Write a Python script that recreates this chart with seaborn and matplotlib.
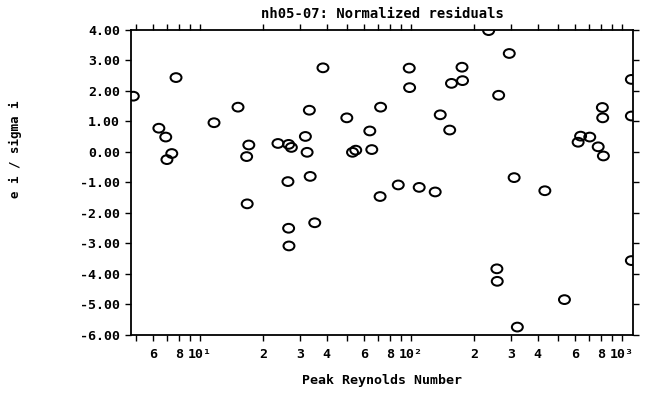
import numpy as np
import pandas as pd
import matplotlib
matplotlib.use("Agg")
import matplotlib.pyplot as plt
import seaborn as sns
from matplotlib.path import Path
from matplotlib.transforms import Affine2D
from matplotlib.ticker import FixedLocator, FixedFormatter, NullFormatter

# Peak Reynolds number of each run and its normalized residual e_i / sigma_i
reynolds = [4.85, 6.41, 6.91, 7.38, 7.0, 7.73, 11.7, 15.2, 17.1, 16.7,
            16.8, 23.5, 26.4, 27.2, 26.2, 26.4, 26.5, 31.7, 32.3, 33.4,
            35.1, 33.1, 38.4, 49.8, 53.0, 54.9, 64.0, 65.4, 71.6, 72.0,
            98.4, 98.8, 175, 176, 156, 261, 293, 234, 138, 153,
            87.3, 109.7, 130.6, 309, 432, 256, 257, 535, 320, 638,
            621, 705, 773, 818, 809, 812, 1110, 1110, 1110]
residuals = [1.83, 0.78, 0.49, -0.05, -0.25, 2.44, 0.96, 1.47, 0.23, -0.15,
             -1.70, 0.28, 0.25, 0.15, -0.97, -2.50, -3.08, 0.51, -0.01, -0.80,
             -2.32, 1.37, 2.76, 1.12, -0.01, 0.06, 0.69, 0.08, -1.46, 1.47,
             2.75, 2.11, 2.78, 2.34, 2.25, 1.86, 3.23, 3.98, 1.22, 0.72,
             -1.08, -1.16, -1.31, -0.84, -1.27, -3.83, -4.24, -4.84, -5.74, 0.52,
             0.32, 0.49, 0.17, -0.13, 1.46, 1.12, 2.38, 1.18, -3.56]

y_ticks = [-6, -5, -4, -3, -2, -1, 0, 1, 2, 3, 4]
x_label_pos = [6, 8, 10, 20, 30, 40, 60, 80, 100, 200, 300, 400, 600, 800, 1000]
x_label_text = ["6", "8", "10¹", "2", "3", "4", "6", "8", "10²",
                "2", "3", "4", "6", "8", "10³"]
x_minor_pos = [5, 7, 9, 50, 70, 90, 500, 700, 900]

df = pd.DataFrame({"Re": reynolds, "res": residuals})

sns.set_theme(style="ticks")
plt.rcParams["font.family"] = ["DejaVu Sans Mono", "DejaVu Sans"]
plt.rcParams["font.weight"] = "bold"
plt.rcParams["axes.linewidth"] = 1.2

fig = plt.figure(figsize=(6.52, 3.96), dpi=100)
ax = fig.add_axes([131 / 652, 1 - 335 / 396, (633 - 131) / 652, (335 - 30) / 396])

# slightly flattened open circle, as drawn by the plotter
ellipse = Path.unit_circle().transformed(Affine2D().scale(1.0, 0.8))

sns.scatterplot(data=df, x="Re", y="res", marker=ellipse, s=62,
                color="black", linewidth=1.45, ax=ax, legend=False)
for coll in ax.collections:
    coll.set_facecolor("none")
    coll.set_edgecolor("black")

ax.set_xscale("log")
ax.set_xlim(4.73, 1130)
ax.set_ylim(-6, 4)

ax.xaxis.set_major_locator(FixedLocator(x_label_pos))
ax.xaxis.set_major_formatter(FixedFormatter(x_label_text))
ax.xaxis.set_minor_locator(FixedLocator(x_minor_pos))
ax.xaxis.set_minor_formatter(NullFormatter())

ax.yaxis.set_major_locator(FixedLocator(y_ticks))
ax.yaxis.set_major_formatter(FixedFormatter([f"{v:.2f}" for v in y_ticks]))

for sp in ax.spines.values():
    sp.set_color("black")
    sp.set_linewidth(1.3)

ax.tick_params(axis="both", which="both", direction="out", length=4, width=1.0,
               top=True, right=True, labeltop=False, labelright=False,
               colors="black", labelsize=9.5)
ax.tick_params(axis="x", which="major", pad=5)
ax.tick_params(axis="y", which="major", pad=4)
for lab in ax.get_xticklabels() + ax.get_yticklabels():
    lab.set_fontweight("bold")

ax.set_title("nh05-07: Normalized residuals", fontsize=10, fontweight="bold",
             color="black", pad=9)
ax.set_xlabel("Peak Reynolds Number", fontsize=9.5, fontweight="bold",
              color="black", labelpad=10)
ax.set_ylabel("e i / sigma i", fontsize=9, fontweight="bold", color="black")
ax.yaxis.set_label_coords(-0.217, 0.61)

fig.savefig("out.png", dpi=100, facecolor="white")
